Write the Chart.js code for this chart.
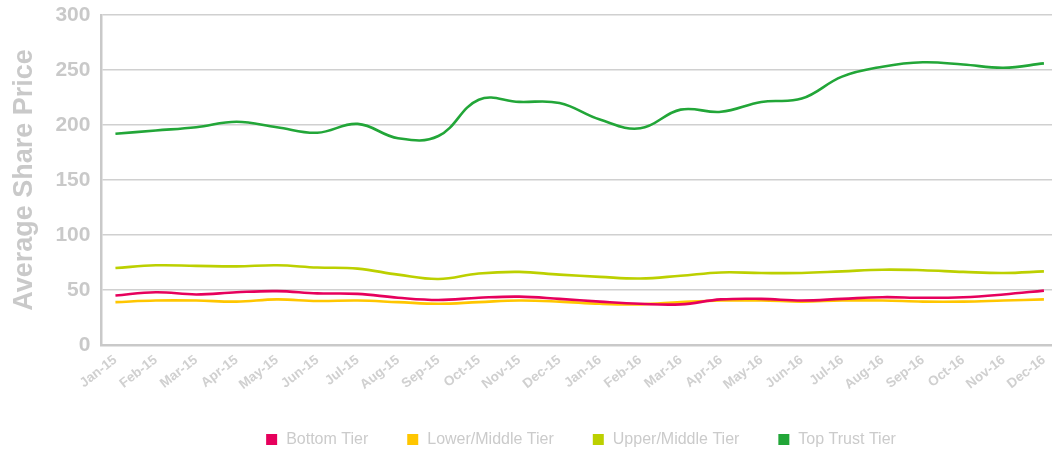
<!DOCTYPE html>
<html>
<head>
<meta charset="utf-8">
<script src="https://cdn.jsdelivr.net/npm/chart.js@4"></script>
<style>
html,body{margin:0;padding:0;background:#fff;}
#wrap{width:1052px;height:449px;position:relative;}
</style>
</head>
<body>
<div id="wrap"><canvas id="c"></canvas></div>
<script>
const months = ["Jan-15","Feb-15","Mar-15","Apr-15","May-15","Jun-15","Jul-15","Aug-15","Sep-15","Oct-15","Nov-15","Dec-15","Jan-16","Feb-16","Mar-16","Apr-16","May-16","Jun-16","Jul-16","Aug-16","Sep-16","Oct-16","Nov-16","Dec-16"];
const bottomTier = [45,48,46,48,49,47,46.5,43,41,43,44,42,39.5,37.5,37,41.5,42,40.5,42,43.5,43,43.5,46,49.5];
const lowerMiddleTier = [39,40.5,40.5,39.5,41.5,40,40.5,39,37.5,39,40.5,39.5,37.5,37,39,40.5,40.5,39.5,40.5,40.5,39.5,39.5,40.5,41.5];
const upperMiddleTier = [70,72.5,72,71.5,72.5,70.5,69.5,64,60,65,66.5,64,62,60.5,63,66,65.5,65.5,67,68.5,68,66.5,65.5,67];
const topTrustTier = [192,195,198,203,198,193,201,188,190,223,221,220,205,197,214,212,221,224,244,253,257,255,252,256];
const yTicks = [0,50,100,150,200,250,300];

const FONT = 'Liberation Sans, Arial, Helvetica, sans-serif';
const toPts = arr => arr.map((v,i)=>({x:i,y:v}));
const grey = '#c9c9c9';
const ds = (label, data, color) => ({
  label, data: toPts(data), borderColor: color, backgroundColor: color,
  borderWidth: 2.6, pointRadius: 0, tension: 0.4, fill: false
});

// legend drawn below the chart, from the datasets
const legendPlugin = {
  id: 'bottomLegend',
  afterDraw(chart) {
    const ctx = chart.ctx;
    const box = 11, gap = 9, spacing = 39, centerX = 581, midY = 439.5;
    ctx.save();
    ctx.font = '16px ' + FONT;
    const items = chart.data.datasets.map(d => ({ text: d.label, color: d.borderColor, w: ctx.measureText(d.label).width }));
    const total = items.reduce((s, it) => s + box + gap + it.w, 0) + spacing * (items.length - 1);
    let x = centerX - total / 2;
    ctx.textBaseline = 'middle';
    ctx.textAlign = 'left';
    items.forEach(it => {
      ctx.fillStyle = it.color;
      ctx.fillRect(x, midY - box / 2, box, box);
      ctx.fillStyle = '#cbcbcb';
      ctx.fillText(it.text, x + box + gap, midY + 0.5);
      x += box + gap + it.w + spacing;
    });
    ctx.restore();
  }
};

new Chart(document.getElementById('c'), {
  type: 'line',
  data: {
    datasets: [
      ds('Bottom Tier', bottomTier, '#e6005c'),
      ds('Lower/Middle Tier', lowerMiddleTier, '#ffc600'),
      ds('Upper/Middle Tier', upperMiddleTier, '#bcd000'),
      ds('Top Trust Tier', topTrustTier, '#22a638')
    ]
  },
  plugins: [legendPlugin],
  options: {
    responsive: true,
    maintainAspectRatio: false,
    animation: false,
    layout: { padding: { left: 8, right: 0, top: 0, bottom: 49 } },
    plugins: {
      tooltip: { enabled: false },
      legend: { display: false }
    },
    scales: {
      x: {
        type: 'linear',
        min: -0.347, max: 23.2,
        afterBuildTicks: s => { s.ticks = months.map((_, i) => ({ value: i })); },
        afterFit: s => { s.paddingRight = 0; },
        ticks: {
          autoSkip: false,
          minRotation: 38, maxRotation: 38,
          padding: 7,
          color: '#d0d0d0',
          font: { family: FONT, size: 13.5, weight: 'bold' },
          callback: v => months[v]
        },
        grid: { display: true, color: 'rgba(0,0,0,0)', drawTicks: false },
        border: { display: true, color: grey, width: 2.5 }
      },
      y: {
        min: 0, max: 300,
        afterBuildTicks: s => { s.ticks = yTicks.map(v => ({ value: v })); },
        afterFit: s => { s.paddingTop = 15; },
        ticks: {
          padding: 11,
          color: grey,
          font: { family: FONT, size: 21, weight: 'bold' }
        },
        grid: { color: '#d0d0d0', lineWidth: 1.5, drawTicks: false },
        border: { display: true, color: grey, width: 2.5 },
        title: {
          display: true, text: 'Average Share Price', color: grey,
          padding: { top: 0, bottom: 4 },
          font: { family: FONT, size: 27, weight: 'bold' }
        }
      }
    }
  }
});
</script>
</body>
</html>
